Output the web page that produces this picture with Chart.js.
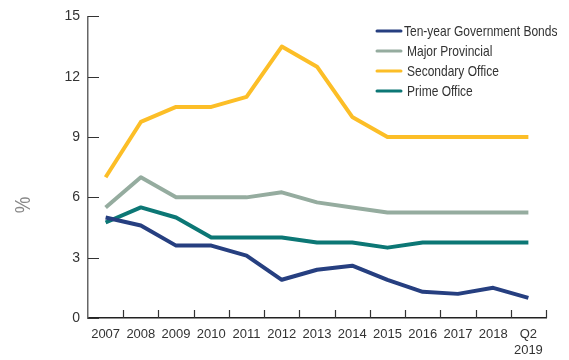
<!DOCTYPE html>
<html>
<head>
<meta charset="utf-8">
<script src="https://cdn.jsdelivr.net/npm/chart.js@4"></script>
<style>
  html, body { margin: 0; padding: 0; background: #fff; }
  #wrap { width: 569px; height: 360px; }
</style>
</head>
<body>
<div id="wrap"><canvas id="lineChart" width="569" height="360"></canvas></div>
<script>
var years = ['2007', '2008', '2009', '2010', '2011', '2012', '2013', '2014', '2015', '2016', '2017', '2018', ['Q2', '2019']];
var bonds = [5.0, 4.6, 3.6, 3.6, 3.1, 1.9, 2.4, 2.6, 1.9, 1.3, 1.2, 1.5, 1.0];
var provincial = [5.5, 7.0, 6.0, 6.0, 6.0, 6.25, 5.75, 5.5, 5.25, 5.25, 5.25, 5.25, 5.25];
var secondary = [7.0, 9.75, 10.5, 10.5, 11.0, 13.5, 12.5, 10.0, 9.0, 9.0, 9.0, 9.0, 9.0];
var prime = [4.75, 5.5, 5.0, 4.0, 4.0, 4.0, 3.75, 3.75, 3.5, 3.75, 3.75, 3.75, 3.75];
var yTicks = [0, 3, 6, 9, 12, 15];
var yUnit = '%';

var font = "'Liberation Sans', Arial, sans-serif";

// ticks point inward, the legend sits inside the plot, condensed text
var extras = {
    id: 'extras',
    afterDraw: function (chart) {
        var ctx = chart.ctx;
        var x = chart.scales.x, y = chart.scales.y;
        var area = chart.chartArea;
        ctx.save();
        ctx.strokeStyle = '#333';
        ctx.lineWidth = 1.2;
        ctx.beginPath();
        yTicks.forEach(function (v) {
            var py = Math.round(y.getPixelForValue(v)) + 0.5;
            ctx.moveTo(area.left, py);
            ctx.lineTo(area.left + 11, py);
        });
        var step = x.getPixelForValue(1) - x.getPixelForValue(0);
        for (var i = 1; i <= years.length; i++) {
            var px = Math.round(x.getPixelForValue(i - 1) + step / 2) + 0.5;
            ctx.moveTo(px, area.bottom);
            ctx.lineTo(px, area.bottom - 8);
        }
        ctx.stroke();

        // legend
        ctx.textBaseline = 'middle';
        ctx.fillStyle = '#333';
        chart.data.datasets.forEach(function (ds, k) {
            var ly = 31 + k * 20;
            ctx.strokeStyle = ds.borderColor;
            ctx.lineWidth = 3;
            ctx.lineCap = 'round';
            ctx.beginPath();
            ctx.moveTo(377, ly);
            ctx.lineTo(401, ly);
            ctx.stroke();
            ctx.save();
            ctx.translate(k === 0 ? 404 : 407, ly + 1);
            ctx.scale(0.8, 1);
            ctx.font = '15px ' + font;
            ctx.fillText(ds.label, 0, 0);
            ctx.restore();
        });

        // axis unit
        ctx.save();
        ctx.translate(24, 205);
        ctx.rotate(-Math.PI / 2);
        ctx.scale(0.85, 1);
        ctx.font = '22px ' + font;
        ctx.fillStyle = '#888';
        ctx.textAlign = 'center';
        ctx.fillText(yUnit, 0, 0);
        ctx.restore();
        ctx.restore();
    }
};

var ctx = document.getElementById('lineChart').getContext('2d');
var myChart = new Chart(ctx, {
    type: 'line',
    data: {
        labels: years,
        datasets: [{
            label: 'Ten-year Government Bonds',
            data: bonds,
            borderColor: '#263f80'
        }, {
            label: 'Major Provincial',
            data: provincial,
            borderColor: '#95ac9f'
        }, {
            label: 'Secondary Office',
            data: secondary,
            borderColor: '#fcbe27'
        }, {
            label: 'Prime Office',
            data: prime,
            borderColor: '#0c7775'
        }]
    },
    options: {
        responsive: false,
        animation: false,
        devicePixelRatio: 1,
        layout: { padding: { top: 12, right: 23, bottom: 0, left: 0 } },
        elements: {
            line: { borderWidth: 4, tension: 0, borderJoinStyle: 'round', borderCapStyle: 'butt' },
            point: { radius: 0 }
        },
        plugins: {
            legend: { display: false },
            tooltip: { enabled: false }
        },
        scales: {
            x: {
                offset: true,
                grid: { display: false, drawTicks: false },
                border: { display: true, color: '#222', width: 1.5 },
                ticks: { color: '#333', font: { family: font, size: 13 }, padding: 9, maxRotation: 0, autoSkip: false },
                afterFit: function (s) { s.height = 42; }
            },
            y: {
                min: 0,
                max: 15,
                grid: { display: false, drawTicks: false },
                border: { display: true, color: '#666', width: 1.5 },
                ticks: { stepSize: 3, color: '#333', font: { family: font, size: 14 }, padding: 8 },
                afterFit: function (s) { s.width = 88; }
            }
        }
    },
    plugins: [extras]
});
</script>
</body>
</html>
